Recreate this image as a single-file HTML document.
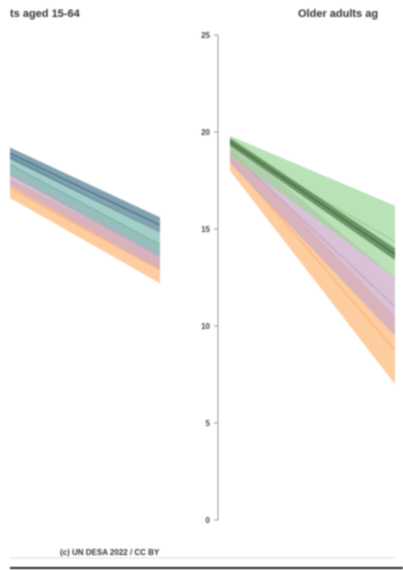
<!DOCTYPE html>
<html><head><meta charset="utf-8"><style>
html,body{margin:0;padding:0;background:#fff;width:403px;height:570px;overflow:hidden;font-family:"Liberation Sans",sans-serif}
svg{filter:blur(0.8px)}
</style></head><body>
<svg id="c" width="403" height="570">
<text x="10" y="17" font-size="11" font-weight="bold" fill="#333">ts aged 15-64</text>
<text x="298" y="17" font-size="11" font-weight="bold" fill="#333">Older adults ag</text>
<line x1="218" y1="35" x2="218" y2="520" stroke="#999" stroke-width="1"/>
<g id="ticks"></g>
<g id="left"></g>
<g id="right"></g>
<text x="60" y="555" font-size="8" font-weight="bold" fill="#333">(c) UN DESA 2022 / CC BY</text>
<line x1="10" y1="558" x2="395" y2="558" stroke="#ddd"/>
<line x1="10" y1="568" x2="403" y2="568" stroke="#222" stroke-width="2"/>
</svg>
<script>
const tickValues=[0,5,10,15,20,25];
const years=[2022,2050];
const leftSeries=["orange","purple","teal","darkblue"];
const leftLo=[[16.6,12.2],[17.2,12.9],[17.8,13.6],[18.6,14.8]];
const leftHi=[[17.6,13.6],[18.4,14.2],[18.8,14.8],[19.2,15.6]];
const rightSeries=["orange","purple","green","darkgreen"];
const rightLo=[[18.0,7.0],[18.4,9.5],[18.8,12.5],[19.3,13.4]];
const rightHi=[[19.2,10.5],[19.6,12.5],[19.8,16.2],[19.7,14.0]];
const colors={orange:"#fcb878",purple:"#c9a8c8",teal:"#7dbab0",darkblue:"#4f7a90",green:"#9dd698",darkgreen:"#4a7446"};
const ns="http://www.w3.org/2000/svg";
function y(v){return 520-v*19.4;}
function xs(x0,x1){return yr=>x0+(yr-years[0])/(years[1]-years[0])*(x1-x0);}
const tg=document.getElementById('ticks');
tickValues.forEach(v=>{
 const t=document.createElementNS(ns,'text');
 
 
 t.setAttribute('x',210);t.setAttribute('y',y(v)+3);t.setAttribute('font-size','8');t.setAttribute('font-weight','bold');t.setAttribute('text-anchor','end');t.setAttribute('fill','#444');
 t.textContent=v;tg.appendChild(t);
 const l=document.createElementNS(ns,'line');
 
 
 l.setAttribute('x1',214);l.setAttribute('x2',218);l.setAttribute('y1',y(v));l.setAttribute('y2',y(v));l.setAttribute('stroke','#999');
 tg.appendChild(l);
});
function draw(gid,names,lo,hi,x){
 const g=document.getElementById(gid);
 names.forEach((n,i)=>{
  const p=document.createElementNS(ns,'polygon');
  
  
  const pts=[[x(years[0]),y(hi[i][0])],[x(years[1]),y(hi[i][1])],[x(years[1]),y(lo[i][1])],[x(years[0]),y(lo[i][0])]];
  p.setAttribute('points',pts.map(a=>a.join(',')).join(' '));
  p.setAttribute('fill',colors[n]);p.setAttribute('fill-opacity','0.7');
  g.appendChild(p);
  const l=document.createElementNS(ns,'line');
  
  
  l.setAttribute('x1',x(years[0]));l.setAttribute('x2',x(years[1]));
  l.setAttribute('y1',y((lo[i][0]+hi[i][0])/2));l.setAttribute('y2',y((lo[i][1]+hi[i][1])/2));
  l.setAttribute('stroke',colors[n]);l.setAttribute('stroke-width','1.5');
  g.appendChild(l);
 });
}
draw('left',leftSeries,leftLo,leftHi,xs(10,160));
draw('right',rightSeries,rightLo,rightHi,xs(230,395));
</script>
</body></html>
